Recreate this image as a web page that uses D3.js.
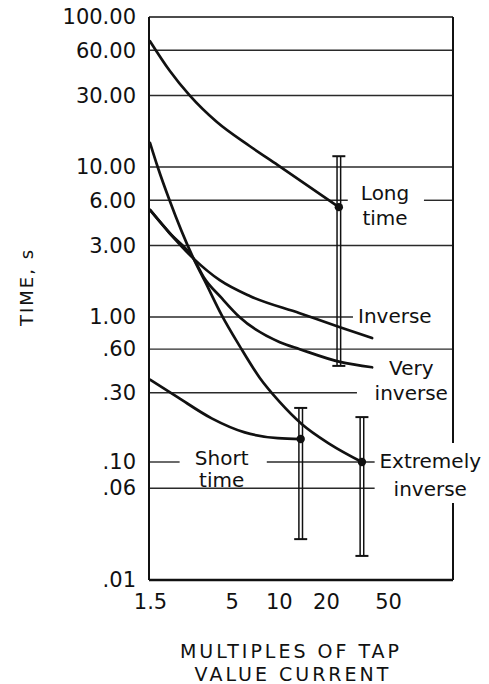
<!DOCTYPE html>
<html>
<head>
<meta charset="utf-8">
<script src="https://cdn.jsdelivr.net/npm/d3@7"></script>
<style>
  html, body { margin: 0; padding: 0; background: #fff; }
  svg { display: block; }
  text { font-family: "DejaVu Sans", sans-serif; fill: #111; }
</style>
</head>
<body>
<svg id="chart" width="489" height="684"></svg>
<script>
// ---- data ----
const yTickValues = [100, 60, 30, 10, 6, 3, 1, 0.6, 0.3, 0.1, 0.06, 0.01];
const yTickLabels = ["100.00", "60.00", "30.00", "10.00", "6.00", "3.00", "1.00", ".60", ".30", ".10", ".06", ".01"];
const xTickValues = [1.5, 5, 10, 20, 50];
const xTickLabels = ["1.5", "5", "10", "20", "50"];

const longTime = [[1.5, 69], [2.0, 44], [2.69, 30], [4.0, 20], [6.5, 13.8], [9.85, 10.3], [24.2, 5.4]];
const inverse = [[1.5, 5.17], [2.0, 3.63], [2.85, 2.45], [4.19, 1.76], [6.52, 1.38], [13.6, 1.06], [24.6, 0.85], [39.5, 0.716]];
const veryInverse = [[1.5, 5.17], [2.0, 3.63], [2.85, 2.45], [3.3, 1.85], [4.3, 1.34], [5.6, 1.0], [10.15, 0.67], [13.6, 0.6], [24.6, 0.49], [39.5, 0.45]];
const extremelyInverse = [[1.5, 14.5], [1.68, 10], [2.0, 6.0], [2.85, 2.45], [3.36, 1.74], [4.31, 1.03], [5.62, 0.63], [7.56, 0.38], [10.15, 0.259], [14.0, 0.183], [21.2, 0.133], [34.0, 0.10]];
const shortTime = [[1.5, 0.37], [2.25, 0.28], [3.72, 0.20], [6.05, 0.16], [9.85, 0.146], [13.8, 0.144]];

// error bars: x, low, high, operating point
const errorBarX = [24.2, 13.8, 34.0];
const errorBarLow = [0.46, 0.0222, 0.016];
const errorBarHigh = [11.8, 0.236, 0.204];
const errorBarPoint = [5.4, 0.144, 0.10];

// curve labels (anchor position in data units)
const curveLabels = [
  { lines: ["Long", "time"], x: 47.8, y: 6.0, anchor: "middle", gap: 25 },
  { lines: ["Inverse"], x: 32.1, y: 0.91, anchor: "start", gap: 0 },
  { lines: ["Very", "inverse"], x: 70.3, y: 0.40, anchor: "middle", gap: 25 },
  { lines: ["Short", "time"], x: 4.31, y: 0.094, anchor: "middle", gap: 22 },
  { lines: ["Extremely", "inverse"], x: 93, y: 0.089, anchor: "middle", gap: 28 }
];

// gridline extents (x-range in data units) per y value
const gridSegments = [
  { y: 60, from: [[1.5, 130]] },
  { y: 30, from: [[1.5, 130]] },
  { y: 10, from: [[1.5, 130]] },
  { y: 6, from: [[1.5, 27.6], [86, 130]] },
  { y: 3, from: [[1.5, 130]] },
  { y: 1, from: [[1.5, 29.8]] },
  { y: 0.6, from: [[1.5, 130]] },
  { y: 0.3, from: [[1.5, 31.6]] },
  { y: 0.1, from: [[1.5, 2.32], [8.5, 41]] },
  { y: 0.06, from: [[1.5, 41]] }
];

// ---- layout ----
const svg = d3.select("#chart");
const pLeft = 149, pRight = 453, pTop = 17, pBottom = 580;

const x = d3.scaleLog().domain([1.5, 130]).range([pLeft + 1, pRight]);
const y = d3.scaleLog().domain([0.01, 0.1, 1, 100]).range([pBottom, 462, 317, pTop]);

// gridlines
const grid = svg.append("g");
gridSegments.forEach(g => {
  g.from.forEach(seg => {
    grid.append("line")
      .attr("x1", x(seg[0]) - 1).attr("x2", x(seg[1]))
      .attr("y1", y(g.y)).attr("y2", y(g.y))
      .attr("stroke", "#2a2a2a").attr("stroke-width", 1.4);
  });
});

// frame
const frame = svg.append("g").attr("stroke", "#111").attr("stroke-width", 2).attr("fill", "none");
frame.append("line").attr("x1", pLeft).attr("x2", pLeft).attr("y1", y(100)).attr("y2", y(0.01));
frame.append("line").attr("x1", pLeft).attr("x2", pRight).attr("y1", y(100)).attr("y2", y(100)).attr("stroke-width", 1.5);
frame.append("line").attr("x1", pLeft).attr("x2", pRight).attr("y1", y(0.01)).attr("y2", y(0.01)).attr("stroke-width", 2.5);
frame.append("line").attr("x1", pRight).attr("x2", pRight).attr("y1", y(100)).attr("y2", y(0.135));
frame.append("line").attr("x1", pRight).attr("x2", pRight).attr("y1", y(0.045)).attr("y2", y(0.01));

// axes
const yAxis = d3.axisLeft(y).tickValues(yTickValues)
  .tickFormat((d, i) => yTickLabels[i]).tickSize(0).tickPadding(13);
const gy = svg.append("g").attr("transform", `translate(${pLeft},0)`).call(yAxis);
gy.select(".domain").remove();
gy.selectAll("text").style("font-family", "'DejaVu Sans', sans-serif").style("font-size", "21px").attr("fill", "#111");

const xAxis = d3.axisBottom(x).tickValues(xTickValues)
  .tickFormat((d, i) => xTickLabels[i]).tickSize(0).tickPadding(14);
const gx = svg.append("g").attr("transform", `translate(0,${pBottom})`).call(xAxis);
gx.select(".domain").remove();
gx.selectAll("text").style("font-family", "'DejaVu Sans', sans-serif").style("font-size", "21px").attr("fill", "#111");

// curves
const line = d3.line().x(d => x(d[0])).y(d => y(d[1])).curve(d3.curveMonotoneX);
const curves = svg.append("g").attr("fill", "none").attr("stroke", "#111").attr("stroke-width", 2.7)
  .attr("stroke-linejoin", "round").attr("stroke-linecap", "round");
[longTime, inverse, veryInverse, extremelyInverse, shortTime].forEach(c => {
  curves.append("path").attr("d", line(c));
});

// error bars
const eb = svg.append("g").attr("stroke", "#111").attr("stroke-width", 1.5);
errorBarX.forEach((xv, i) => {
  const cx = x(xv);
  [-1.8, 1.8].forEach(off => {
    eb.append("line").attr("x1", cx + off).attr("x2", cx + off)
      .attr("y1", y(errorBarHigh[i])).attr("y2", y(errorBarLow[i]));
  });
  [errorBarHigh[i], errorBarLow[i]].forEach(v => {
    eb.append("line").attr("x1", cx - 6.5).attr("x2", cx + 6.5)
      .attr("y1", y(v)).attr("y2", y(v)).attr("stroke-width", 2);
  });
  svg.append("circle").attr("cx", cx).attr("cy", y(errorBarPoint[i])).attr("r", 4.2).attr("fill", "#111");
});

// curve labels
curveLabels.forEach(l => {
  const t = svg.append("text").attr("x", x(l.x)).attr("y", y(l.y))
    .attr("text-anchor", l.anchor)
    .style("font-size", "20px");
  l.lines.forEach((s, k) => {
    t.append("tspan").attr("x", x(l.x)).attr("dy", k === 0 ? 0 : l.gap).text(s);
  });
});

// axis titles
svg.append("text").attr("transform", "translate(33,287) rotate(-90)")
  .attr("text-anchor", "middle").style("font-size", "18px").style("letter-spacing", "2px")
  .text("TIME, s");
svg.append("text").attr("x", 291).attr("y", 658).attr("text-anchor", "middle")
  .style("font-size", "19px").style("letter-spacing", "3px").text("MULTIPLES OF TAP");
svg.append("text").attr("x", 293).attr("y", 681).attr("text-anchor", "middle")
  .style("font-size", "19px").style("letter-spacing", "3px").text("VALUE CURRENT");
</script>
</body>
</html>
